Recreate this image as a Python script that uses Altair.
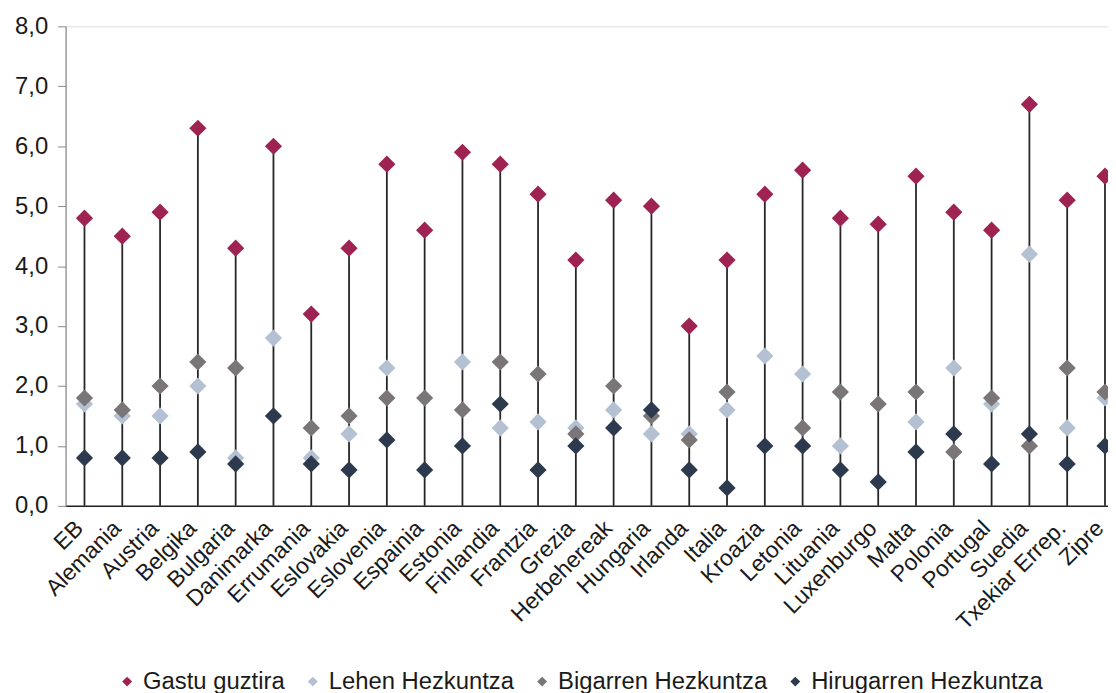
import altair as alt
import pandas as pd

categories = ["EB", "Alemania", "Austria", "Belgika", "Bulgaria", "Danimarka", "Errumania",
              "Eslovakia", "Eslovenia", "Espainia", "Estonia", "Finlandia", "Frantzia", "Grezia",
              "Herbehereak", "Hungaria", "Irlanda", "Italia", "Kroazia", "Letonia", "Lituania",
              "Luxenburgo", "Malta", "Polonia", "Portugal", "Suedia", "Txekiar Errep.", "Zipre"]

gastu = [4.8, 4.5, 4.9, 6.3, 4.3, 6.0, 3.2, 4.3, 5.7, 4.6, 5.9, 5.7, 5.2, 4.1,
         5.1, 5.0, 3.0, 4.1, 5.2, 5.6, 4.8, 4.7, 5.5, 4.9, 4.6, 6.7, 5.1, 5.5]
lehen = [1.7, 1.5, 1.5, 2.0, 0.8, 2.8, 0.8, 1.2, 2.3, None, 2.4, 1.3, 1.4, 1.3,
         1.6, 1.2, 1.2, 1.6, 2.5, 2.2, 1.0, None, 1.4, 2.3, 1.7, 4.2, 1.3, 1.8]
bigarren = [1.8, 1.6, 2.0, 2.4, 2.3, None, 1.3, 1.5, 1.8, 1.8, 1.6, 2.4, 2.2, 1.2,
            2.0, 1.5, 1.1, 1.9, None, 1.3, 1.9, 1.7, 1.9, 0.9, 1.8, 1.0, 2.3, 1.9]
hirugarren = [0.8, 0.8, 0.8, 0.9, 0.7, 1.5, 0.7, 0.6, 1.1, 0.6, 1.0, 1.7, 0.6, 1.0,
              1.3, 1.6, 0.6, 0.3, 1.0, 1.0, 0.6, 0.4, 0.9, 1.2, 0.7, 1.2, 0.7, 1.0]

series_names = ["Gastu guztira", "Lehen Hezkuntza", "Bigarren Hezkuntza", "Hirugarren Hezkuntza"]
series_colors = ["#9E2353", "#B3C1D3", "#7A7677", "#2D3A4E"]
series_values = [gastu, lehen, bigarren, hirugarren]

rows = []
for name, vals in zip(series_names, series_values):
    for c, v in zip(categories, vals):
        if v is not None:
            rows.append({"herrialdea": c, "seriea": name, "balioa": v})
points_df = pd.DataFrame(rows)
stems_df = pd.DataFrame({"herrialdea": categories, "balioa": gastu})

FONT = "Liberation Sans"

x_scale = alt.Scale(type="point", range=[0, 1066], padding=0.5)
x_enc = alt.X("herrialdea:N", sort=categories, scale=x_scale,
              axis=alt.Axis(title=None, labelAngle=-45, labelFontSize=23, labelFont=FONT,
                            labelColor="#1a1a1a", ticks=False, domainColor="#222222",
                            domainWidth=1.5, labelPadding=27, labelOffset=3,
                            labelAlign="right", labelBaseline="bottom"))
y_scale = alt.Scale(domain=[0, 8], nice=False)

stems = alt.Chart(stems_df).mark_rule(color="#262626", strokeWidth=1.8).encode(
    x=x_enc,
    y=alt.Y("balioa:Q", scale=y_scale,
            axis=alt.Axis(title=None, values=[0, 1, 2, 3, 4, 5, 6, 7, 8],
                          labelExpr="replace(format(datum.value, '.1f'), '.', ',')",
                          labelFontSize=24, labelFont=FONT, labelColor="#1a1a1a",
                          grid=False, domainColor="#8a8a8a", tickColor="#8a8a8a",
                          tickSize=8, labelPadding=10, domainWidth=1.2)),
    y2=alt.datum(0),
)

points = alt.Chart(points_df).mark_point(shape="diamond", filled=True, size=300, opacity=1).encode(
    x=alt.X("herrialdea:N", sort=categories, scale=x_scale),
    y=alt.Y("balioa:Q", scale=y_scale),
    color=alt.Color("seriea:N", sort=series_names,
                    scale=alt.Scale(domain=series_names, range=series_colors),
                    legend=alt.Legend(title=None, orient="none", direction="horizontal",
                                      legendX=50, legendY=648, symbolType="diamond",
                                      symbolSize=100, labelFontSize=24, labelFont=FONT,
                                      labelColor="#1a1a1a", labelOffset=4, labelLimit=0,
                                      columnPadding=16, padding=0, symbolStrokeWidth=0)),
)

chart = alt.layer(stems, points).properties(
    width=1050, height=483,
    autosize=alt.AutoSizeParams(type="none"),
    padding={"left": 58, "top": 16, "right": 0, "bottom": 186},
).configure_view(stroke=None).configure(background="white")

chart.save("out.html", embed_options={"renderer": "svg", "actions": False})
